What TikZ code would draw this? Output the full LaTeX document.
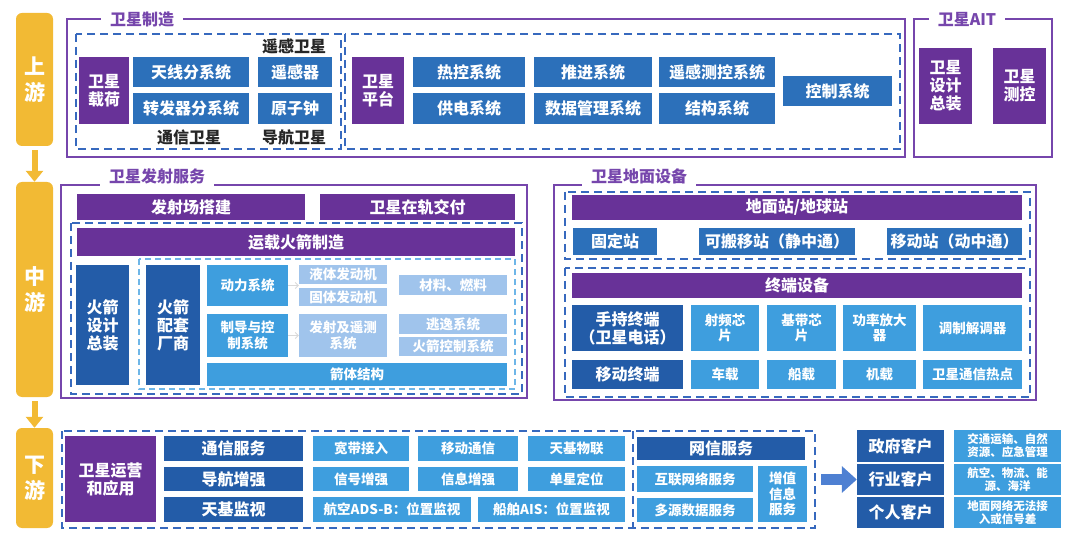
\documentclass[tikz,border=0pt]{standalone}
\usepackage{fontspec}
\setmainfont{Noto Sans CJK SC}
\usetikzlibrary{arrows.meta}
\definecolor{zpurple}{RGB}{104,50,152}
\definecolor{zframe}{RGB}{118,70,172}
\definecolor{zblue}{RGB}{44,112,186}
\definecolor{zdark}{RGB}{35,92,168}
\definecolor{zlight}{RGB}{62,158,222}
\definecolor{zpale}{RGB}{160,196,236}
\definecolor{zdash}{RGB}{55,105,190}
\definecolor{zdashlt}{RGB}{110,182,232}
\definecolor{zyellow}{RGB}{242,186,52}
\definecolor{zarrow}{RGB}{78,128,210}
% box from corner (x1,y1) to (x2,y2): style, x1, y1, x2, y2, name, text
\newcommand{\blk}[7]{\node[#1,minimum width={#4-#2},minimum height={#5-#3}] (#6) at ({(#2+#4)/2},{(#3+#5)/2}) {#7};}
\begin{document}
\begin{tikzpicture}[x=1pt,y=-1pt,
    blk/.style={inner sep=1pt, align=center, text=white, font=\bfseries\fontsize{16}{18}\selectfont},
    pur/.style={blk, fill=zpurple},
    blu/.style={blk, fill=zblue},
    dk/.style={blk, fill=zdark},
    lt/.style={blk, fill=zlight},
    pl/.style={blk, fill=zpale},
    sm/.style={font=\bfseries\fontsize{13.5}{15.5}\selectfont},
    xs/.style={font=\bfseries\fontsize{11.5}{13}\selectfont},
    frame/.style={draw=zframe, line width=2pt},
    ftitle/.style={fill=white, text=zframe, inner xsep=9pt, inner ysep=2pt, font=\bfseries\fontsize{16}{18}\selectfont},
    lab/.style={text=black!85, inner sep=1pt, font=\bfseries\fontsize{16}{18}\selectfont},
    dsh/.style={draw=zdash, line width=2pt, dash pattern=on 8pt off 5pt},
    dshlt/.style={draw=zdashlt, line width=1.6pt, dash pattern=on 6pt off 4pt},
    ybox/.style={fill=zyellow, rounded corners=6pt, text=white, align=center, font=\bfseries\fontsize{21}{26}\selectfont},
    yarr/.style={draw=zyellow, line width=6pt, -{Triangle[width=17pt,length=11pt]}},
    garr/.style={draw=black!15, line width=0.8pt, -{Straight Barb[length=3pt,width=6pt]}},
    barr/.style={draw=zarrow, line width=11pt, -{Triangle[width=26pt,length=15pt]}}]
\useasboundingbox (0,0) rectangle (1080,540);

% stages
\node[ybox, minimum width=37, minimum height=133] (sy) at (34.5,79.5) {上\\游};
\node[ybox, minimum width=37, minimum height=215] (zy) at (34.5,289.5) {中\\游};
\node[ybox, minimum width=37, minimum height=100] (xy) at (34.5,478) {下\\游};
\draw[yarr] (sy.south) ++(0,4) coordinate (a1) (a1) -- (zy.north);
\draw[yarr] (zy.south) ++(0,4) coordinate (a2) (a2) -- (xy.north);

% upstream: satellite manufacturing
\draw[frame] (67,19) rectangle (905,157);
\node[ftitle] (wxzz) at (142,19) {卫星制造};
\draw[dsh] (76,34) rectangle (341,149);
\draw[dsh] (345,34) rectangle (900,149);
\blk{pur}{79}{57}{129}{124}{wxzh}{卫星\\载荷}
\blk{blu}{133}{57}{249}{87}{txfx}{天线分系统}
\blk{blu}{133}{93}{249}{124}{zfq}{转发器分系统}
\blk{blu}{258}{57}{332}{87}{ygq}{遥感器}
\blk{blu}{258}{93}{332}{124}{yzz}{原子钟}
\node[lab] (ygwx) at (294,46) {遥感卫星};
\node[lab] (txwx) at (189,137) {通信卫星};
\node[lab] (dhwx) at (294,137) {导航卫星};
\blk{pur}{352}{57}{404}{124}{wxpt}{卫星\\平台}
\blk{blu}{413}{57}{525}{87}{rk}{热控系统}
\blk{blu}{413}{93}{525}{124}{gd}{供电系统}
\blk{blu}{534}{57}{652}{87}{tj}{推进系统}
\blk{blu}{534}{93}{652}{124}{sjgl}{数据管理系统}
\blk{blu}{659}{57}{775}{87}{ygck}{遥感测控系统}
\blk{blu}{659}{93}{775}{124}{jg}{结构系统}
\blk{blu}{783}{76}{892}{106}{kz}{控制系统}

% upstream: AIT
\draw[frame] (914,19) rectangle (1052,157);
\node[ftitle] (ait) at (967,19) {卫星AIT};
\blk{pur}{919}{48}{972}{124}{sjzz}{卫星\\设计\\总装}
\blk{pur}{993}{48}{1046}{124}{wxck}{卫星\\测控}

% midstream: launch services
\draw[frame] (61,185) rectangle (527,398);
\node[ftitle, minimum height=22] (fsfw) at (157,176) {卫星发射服务};
\blk{pur}{77}{194}{305}{220}{fscj}{发射场搭建}
\blk{pur}{320}{194}{515}{220}{zgjf}{卫星在轨交付}
\draw[dsh] (71,223) rectangle (522,394);
\blk{pur}{77}{228}{515}{256}{yzhj}{运载火箭制造}
\blk{dk}{76}{265}{129}{385}{hjsj}{火箭\\设计\\总装}
\draw[dshlt] (139,259) rectangle (515,389);
\blk{dk}{146}{265}{200}{385}{hjpt}{火箭\\配套\\厂商}
\blk{lt,sm}{207}{265}{288}{306}{dlxt}{动力系统}
\blk{lt,sm}{207}{314}{288}{357}{zdkz}{制导与控\\制系统}
\blk{pl,sm}{299}{265}{387}{284}{ytfd}{液体发动机}
\blk{pl,sm}{299}{288}{387}{306}{gtfd}{固体发动机}
\blk{pl,sm}{299}{314}{387}{357}{fsyc}{发射及遥测\\系统}
\blk{pl,sm}{399}{275}{507}{295}{clrl}{材料、燃料}
\blk{pl,sm}{399}{314}{507}{334}{tyxt}{逃逸系统}
\blk{pl,sm}{399}{337}{507}{356}{hjkz}{火箭控制系统}
\blk{lt,sm}{207}{363}{507}{386}{jtjg}{箭体结构}
\draw[garr] (dlxt.east) -- (dlxt.east -| ytfd.west);
\draw[garr] (zdkz.east) -- (zdkz.east -| fsyc.west);

% midstream: ground equipment
\draw[frame] (554,185) rectangle (1036,400);
\node[ftitle, minimum height=22] (dmsb) at (639,176) {卫星地面设备};
\draw[dsh] (565,192) rectangle (1030,259);
\blk{pur}{572}{195}{1022}{220}{dmz}{地面站/地球站}
\blk{blu}{573}{228}{657}{255}{gdz}{固定站}
\blk{blu}{699}{228}{855}{255}{kbyz}{可搬移站（静中通）}
\blk{blu}{887}{228}{1022}{255}{ydz}{移动站（动中通）}
\draw[dsh] (565,268) rectangle (1030,397);
\blk{pur}{572}{273}{1022}{298}{zdsb}{终端设备}
\blk{dk}{572}{305}{683}{351}{sczd}{手持终端\\（卫星电话）}
\blk{lt,sm}{691}{305}{759}{351}{spxp}{射频芯\\片}
\blk{lt,sm}{767}{305}{836}{351}{jdxp}{基带芯\\片}
\blk{lt,sm}{843}{305}{916}{351}{glfd}{功率放大\\器}
\blk{lt,sm}{923}{305}{1022}{351}{tzjt}{调制解调器}
\blk{dk}{572}{360}{683}{389}{ydzd}{移动终端}
\blk{lt,sm}{691}{360}{759}{389}{czai}{车载}
\blk{lt,sm}{767}{360}{836}{389}{cbzai}{船载}
\blk{lt,sm}{843}{360}{916}{389}{jzai}{机载}
\blk{lt,sm}{923}{360}{1022}{389}{wxrd}{卫星通信热点}

% downstream
\draw[dsh] (62,431) rectangle (815,528);
\draw[dsh] (633,431) -- (633,528);
\blk{pur}{65}{436}{156}{522}{yyyy}{卫星运营\\和应用}
\blk{dk}{164}{436}{303}{461}{txfw}{通信服务}
\blk{dk}{164}{467}{303}{491}{dhzq}{导航增强}
\blk{dk}{164}{497}{303}{522}{tjjs}{天基监视}
\blk{lt,sm}{313}{436}{409}{461}{kdjr}{宽带接入}
\blk{lt,sm}{418}{436}{518}{461}{ydtx}{移动通信}
\blk{lt,sm}{528}{436}{625}{461}{tjwl}{天基物联}
\blk{lt,sm}{313}{467}{409}{491}{xhzq}{信号增强}
\blk{lt,sm}{418}{467}{518}{491}{xxzq}{信息增强}
\blk{lt,sm}{528}{467}{625}{491}{dxdw}{单星定位}
\blk{lt,sm}{313}{497}{471}{522}{hkads}{航空ADS-B：位置监视}
\blk{lt,sm}{478}{497}{625}{522}{cbais}{船舶AIS：位置监视}
\blk{dk}{637}{437}{805}{460}{wxfw}{网信服务}
\blk{lt,sm}{637}{466}{753}{492}{hlwl}{互联网络服务}
\blk{lt,sm}{637}{498}{753}{522}{dysj}{多源数据服务}
\blk{lt,sm}{758}{466}{807}{522}{zzxx}{增值\\信息\\服务}

% customers
\blk{dk}{857}{430}{944}{462}{zfkh}{政府客户}
\blk{dk}{857}{464}{944}{495}{hykh}{行业客户}
\blk{dk}{857}{497}{944}{528}{grkh}{个人客户}
\blk{lt,xs}{954}{430}{1061}{462}{jtys}{交通运输、自然\\资源、应急管理}
\blk{lt,xs}{954}{464}{1061}{495}{hkwl}{航空、物流、能\\源、海洋}
\blk{lt,xs}{954}{497}{1061}{528}{dmwl}{地面网络无法接\\入或信号差}
\coordinate (ab) at (821,479.5);
\draw[barr] (ab) -- (hykh.west);
\end{tikzpicture}
\end{document}
